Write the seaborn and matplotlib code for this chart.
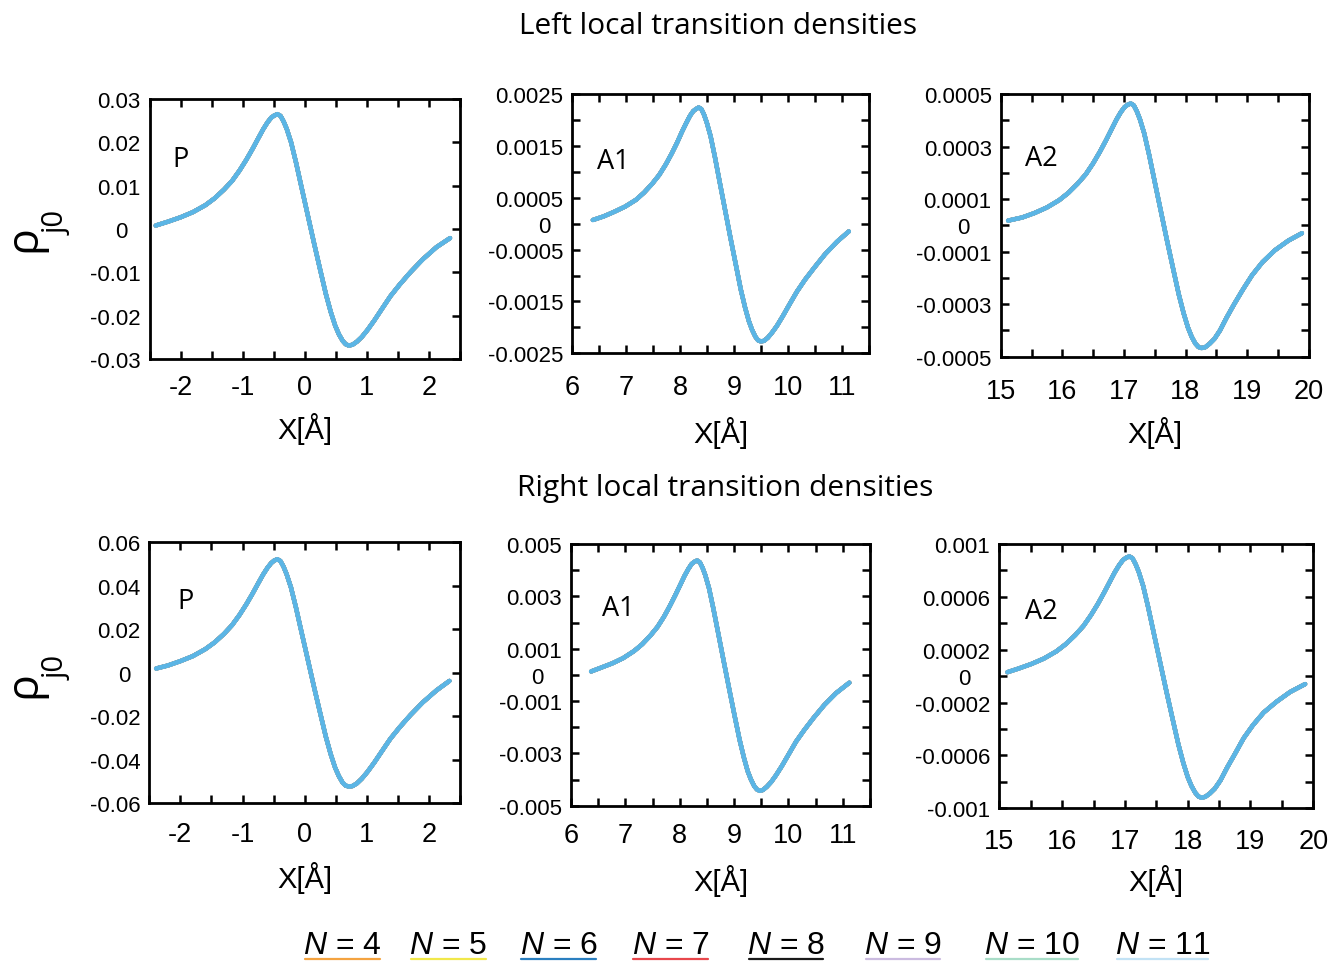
import matplotlib
matplotlib.use("Agg")
import matplotlib.pyplot as plt
import matplotlib.transforms as mtransforms
from matplotlib.lines import Line2D
import numpy as np
import pandas as pd
import seaborn as sns

# ---------------- data ----------------
n_sizes = [4, 5, 6, 7, 8, 9, 10, 11]
line_colors = ["#F4A340", "#F1E84A", "#2A7FC0", "#E8474C", "#1A1A1A", "#CBBBE0", "#A9DDC8", "#5BB5E5"]
legend_colors = ["#F4A340", "#F1E84A", "#2A7FC0", "#E8474C", "#1A1A1A", "#CBBBE0", "#A9DDC8", "#C2E2F5"]

# left local transition densities
left_p_x = [-2.40, -2.20, -2.00, -1.80, -1.60, -1.45, -1.30, -1.17, -1.05, -0.94, -0.84, -0.75, -0.67, -0.60,
            -0.54, -0.49, -0.44, -0.39, -0.34, -0.29, -0.22, -0.14, -0.05, 0.05, 0.15, 0.25, 0.34, 0.42, 0.49,
            0.55, 0.61, 0.66, 0.71, 0.77, 0.84, 0.92, 1.01, 1.12, 1.24, 1.38, 1.53, 1.70, 1.90, 2.12, 2.34]
left_p_y = [0.0008, 0.0017, 0.0027, 0.0039, 0.0055, 0.0071, 0.0091, 0.0111, 0.0135, 0.0160, 0.0185, 0.0209,
            0.0230, 0.0246, 0.0257, 0.0262, 0.0265, 0.0261, 0.0248, 0.0231, 0.0200, 0.0153, 0.0095, 0.0031,
            -0.0033, -0.0095, -0.0150, -0.0192, -0.0223, -0.0243, -0.0258, -0.0266, -0.0269, -0.0267, -0.0260,
            -0.0249, -0.0233, -0.0211, -0.0185, -0.0155, -0.0128, -0.0100, -0.0070, -0.0042, -0.0021]

left_a1_x = [6.38, 6.58, 6.78, 6.98, 7.18, 7.33, 7.48, 7.61, 7.73, 7.84, 7.94, 8.03, 8.11, 8.18, 8.24, 8.29,
             8.34, 8.39, 8.44, 8.49, 8.56, 8.64, 8.73, 8.83, 8.93, 9.03, 9.12, 9.20, 9.27, 9.33, 9.39, 9.44,
             9.49, 9.55, 9.62, 9.70, 9.79, 9.90, 10.02, 10.16, 10.31, 10.48, 10.68, 10.90, 11.12]
left_a1_y = [0.00007, 0.00014, 0.00023, 0.00033, 0.00046, 0.00060, 0.00077, 0.00094, 0.00114, 0.00135,
             0.00156, 0.00177, 0.00194, 0.00208, 0.00217, 0.00221, 0.00224, 0.00221, 0.00210, 0.00195,
             0.00169, 0.00129, 0.00080, 0.00026, -0.00028, -0.00080, -0.00127, -0.00162, -0.00188, -0.00205,
             -0.00218, -0.00225, -0.00227, -0.00226, -0.00220, -0.00210, -0.00197, -0.00178, -0.00156,
             -0.00131, -0.00108, -0.00085, -0.00059, -0.00035, -0.00015]

left_a2_x = [15.12, 15.35, 15.55, 15.75, 15.95, 16.10, 16.25, 16.38, 16.50, 16.61, 16.71, 16.80, 16.88, 16.95,
             17.01, 17.06, 17.11, 17.16, 17.21, 17.26, 17.33, 17.41, 17.50, 17.60, 17.70, 17.80, 17.89, 17.97,
             18.04, 18.10, 18.16, 18.21, 18.26, 18.32, 18.39, 18.47, 18.56, 18.67, 18.79, 18.93, 19.08, 19.25,
             19.45, 19.67, 19.89]
left_a2_y = [0.000018, 0.000030, 0.000047, 0.000068, 0.000096, 0.000124, 0.000159, 0.000194, 0.000236,
             0.000280, 0.000324, 0.000366, 0.000403, 0.000431, 0.000450, 0.000459, 0.000464, 0.000457,
             0.000434, 0.000404, 0.000350, 0.000268, 0.000166, 0.000054, -0.000058, -0.000166, -0.000262,
             -0.000335, -0.000389, -0.000424, -0.000450, -0.000463, -0.000467, -0.000464, -0.000451,
             -0.000432, -0.000400, -0.000350, -0.000300, -0.000245, -0.000190, -0.000140, -0.000095,
             -0.000058, -0.000030]

# right local transition densities
right_p_x = [-2.39, -2.20, -2.00, -1.80, -1.60, -1.45, -1.30, -1.17, -1.05, -0.94, -0.84, -0.75, -0.67, -0.60,
             -0.54, -0.49, -0.44, -0.39, -0.34, -0.29, -0.22, -0.14, -0.05, 0.05, 0.15, 0.25, 0.34, 0.42, 0.49,
             0.55, 0.61, 0.66, 0.71, 0.77, 0.84, 0.92, 1.01, 1.12, 1.24, 1.38, 1.53, 1.70, 1.90, 2.12, 2.33]
right_p_y = [0.0019, 0.0033, 0.0053, 0.0076, 0.0108, 0.0139, 0.0178, 0.0218, 0.0265, 0.0314, 0.0363, 0.0410,
             0.0451, 0.0482, 0.0504, 0.0516, 0.0522, 0.0514, 0.0488, 0.0453, 0.0392, 0.0300, 0.0186, 0.0061,
             -0.0065, -0.0186, -0.0294, -0.0376, -0.0437, -0.0476, -0.0506, -0.0520, -0.0524, -0.0522,
             -0.0510, -0.0488, -0.0457, -0.0414, -0.0363, -0.0304, -0.0251, -0.0196, -0.0137, -0.0082,
             -0.0038]

right_a1_x = [6.37, 6.56, 6.76, 6.96, 7.16, 7.31, 7.46, 7.59, 7.71, 7.82, 7.92, 8.01, 8.09, 8.16, 8.22, 8.27,
              8.32, 8.37, 8.42, 8.47, 8.54, 8.62, 8.71, 8.81, 8.91, 9.01, 9.10, 9.18, 9.25, 9.31, 9.37, 9.42,
              9.47, 9.53, 9.60, 9.68, 9.77, 9.88, 10.00, 10.14, 10.29, 10.46, 10.66, 10.88, 11.12]
right_a1_y = [0.00013, 0.00028, 0.00044, 0.00064, 0.00091, 0.00117, 0.00150, 0.00183, 0.00222, 0.00264,
              0.00305, 0.00344, 0.00379, 0.00405, 0.00424, 0.00432, 0.00437, 0.00430, 0.00409, 0.00381,
              0.00330, 0.00252, 0.00157, 0.00051, -0.00054, -0.00157, -0.00247, -0.00316, -0.00368, -0.00400,
              -0.00425, -0.00438, -0.00443, -0.00440, -0.00428, -0.00410, -0.00384, -0.00348, -0.00305,
              -0.00255, -0.00211, -0.00165, -0.00115, -0.00069, -0.00030]

right_a2_x = [15.13, 15.31, 15.51, 15.71, 15.91, 16.06, 16.21, 16.34, 16.46, 16.57, 16.67, 16.76, 16.84, 16.91,
              16.97, 17.02, 17.07, 17.12, 17.17, 17.22, 17.29, 17.37, 17.46, 17.56, 17.66, 17.76, 17.85, 17.93,
              18.00, 18.06, 18.12, 18.17, 18.22, 18.28, 18.35, 18.43, 18.52, 18.63, 18.75, 18.89, 19.04, 19.21,
              19.41, 19.63, 19.87]
right_a2_y = [0.000030, 0.000058, 0.000092, 0.000133, 0.000188, 0.000243, 0.000311, 0.000380, 0.000462,
              0.000547, 0.000633, 0.000715, 0.000787, 0.000841, 0.000879, 0.000896, 0.000906, 0.000893,
              0.000848, 0.000790, 0.000684, 0.000523, 0.000325, 0.000106, -0.000113, -0.000325, -0.000513,
              -0.000657, -0.000763, -0.000831, -0.000882, -0.000910, -0.000920, -0.000913, -0.000889,
              -0.000852, -0.000790, -0.000690, -0.000590, -0.000470, -0.000370, -0.000275, -0.000195,
              -0.000120, -0.000060]

# tick labels
p_xticklabels = ["", "-2", "", "-1", "", "0", "", "1", "", "2", ""]
a1_xticklabels = ["6", "", "7", "", "8", "", "9", "", "10", "", "11", ""]
a2_xticklabels = ["15", "", "16", "", "17", "", "18", "", "19", "", "20"]

left_p_yticklabels = ["-0.03", "-0.02", "-0.01", "0", "0.01", "0.02", "0.03"]
left_a1_yticklabels = ["-0.0025", "", "-0.0015", "", "-0.0005", "0", "0.0005", "", "0.0015", "", "0.0025"]
left_a2_yticklabels = ["-0.0005", "", "-0.0003", "", "-0.0001", "0", "0.0001", "", "0.0003", "", "0.0005"]
right_p_yticklabels = ["-0.06", "-0.04", "-0.02", "0", "0.02", "0.04", "0.06"]
right_a1_yticklabels = ["-0.005", "", "-0.003", "", "-0.001", "0", "0.001", "", "0.003", "", "0.005"]
right_a2_yticklabels = ["-0.001", "", "-0.0006", "", "-0.0002", "0", "0.0002", "", "0.0006", "", "0.001"]

row_titles = ["Left local transition densities", "Right local transition densities"]

# ---------------- style ----------------
sns.set_theme(style="white")
plt.rcParams["font.family"] = ["Liberation Sans", "DejaVu Sans"]
plt.rcParams["axes.unicode_minus"] = False
plt.rcParams["mathtext.fontset"] = "custom"
plt.rcParams["mathtext.it"] = "Liberation Sans:italic"
plt.rcParams["mathtext.rm"] = "Liberation Sans"

W, H = 1333, 962
fig = plt.figure(figsize=(W / 100, H / 100), dpi=100)
fig.patch.set_facecolor("white")

HUMANIST = ["Open Sans", "DejaVu Sans"]


def px_rect(left, top, right, bottom):
    return [left / W, 1 - bottom / H, (right - left) / W, (bottom - top) / H]


panels = [
    dict(x=left_p_x, y=left_p_y, rect=px_rect(149.5, 100, 460, 360), xlim=(-2.5, 2.5), ylim=(-0.03, 0.03),
         ystep=0.01, xtl=p_xticklabels, ytl=left_p_yticklabels, name="P", npos=(0.10, 0.77),
         leftticks=False, xpad=11, zero_shift=9, xlab_y=-0.265),
    dict(x=left_a1_x, y=left_a1_y, rect=px_rect(572.3, 95, 869.3, 354.3), xlim=(6.0, 11.5), ylim=(-0.0025, 0.0025),
         ystep=0.0005, xtl=a1_xticklabels, ytl=left_a1_yticklabels, name="A1", npos=(0.137, 0.743),
         leftticks=True, xpad=15, zero_shift=9, xlab_y=-0.305),
    dict(x=left_a2_x, y=left_a2_y, rect=px_rect(1000.7, 95, 1308.7, 357.7), xlim=(15, 20), ylim=(-0.0005, 0.0005),
         ystep=0.0001, xtl=a2_xticklabels, ytl=left_a2_yticklabels, name="A2", npos=(0.132, 0.756),
         leftticks=True, xpad=15.5, zero_shift=16, xlab_y=-0.285),
    dict(x=right_p_x, y=right_p_y, rect=px_rect(149.3, 543.3, 460, 804), xlim=(-2.5, 2.5), ylim=(-0.06, 0.06),
         ystep=0.02, xtl=p_xticklabels, ytl=right_p_yticklabels, name="P", npos=(0.115, 0.773),
         leftticks=False, xpad=13, zero_shift=7, xlab_y=-0.285),
    dict(x=right_a1_x, y=right_a1_y, rect=px_rect(571, 545, 870, 806.7), xlim=(6.0, 11.5), ylim=(-0.005, 0.005),
         ystep=0.001, xtl=a1_xticklabels, ytl=right_a1_yticklabels, name="A1", npos=(0.157, 0.755),
         leftticks=True, xpad=12, zero_shift=13, xlab_y=-0.285),
    dict(x=right_a2_x, y=right_a2_y, rect=px_rect(999.3, 545, 1313.3, 809.3), xlim=(15, 20), ylim=(-0.001, 0.001),
         ystep=0.0002, xtl=a2_xticklabels, ytl=right_a2_yticklabels, name="A2", npos=(0.134, 0.745),
         leftticks=True, xpad=14, zero_shift=14, xlab_y=-0.27),
]

for spec in panels:
    ax = fig.add_axes(spec["rect"])
    df = pd.DataFrame({"x": spec["x"], "y": spec["y"]})
    # one curve per basis size; the largest basis is drawn last, on top
    for n, col in zip(n_sizes, line_colors):
        sns.lineplot(data=df, x="x", y="y", ax=ax, color=col, lw=3.3 if n == 11 else 3.0,
                     sort=False, estimator=None, solid_capstyle="round", solid_joinstyle="round",
                     zorder=2 + n / 100)

    x0, x1 = spec["xlim"]
    y0, y1 = spec["ylim"]
    ax.set_xlim(x0, x1)
    ax.set_ylim(y0, y1)
    xt = np.arange(x0, x1 + 1e-9, 0.5)
    ax.set_xticks(xt)
    ax.set_xticklabels(spec["xtl"])
    nyt = int(round((y1 - y0) / spec["ystep"])) + 1
    yt = np.linspace(y0, y1, nyt)
    ax.set_yticks(yt)
    ax.set_yticklabels(spec["ytl"])

    for side in ["top", "right", "bottom", "left"]:
        ax.spines[side].set_visible(True)
        ax.spines[side].set_color("black")
        ax.spines[side].set_linewidth(2.0)
    ax.tick_params(axis="both", direction="in", length=6, width=1.8, color="black",
                   top=True, right=True, bottom=True, left=spec["leftticks"])
    ax.tick_params(axis="x", labelsize=19.5, pad=spec["xpad"], labelcolor="black")
    ax.tick_params(axis="y", labelsize=16, pad=6.5, labelcolor="black")

    # the "0" labels on the y axes sit a little further left than the rest
    for lbl, val in zip(ax.get_yticklabels(), yt):
        if abs(val) < 1e-12:
            lbl.set_transform(lbl.get_transform() +
                              mtransforms.ScaledTranslation(-spec["zero_shift"] / 72, 0, fig.dpi_scale_trans))

    ax.set_ylabel("")
    ax.set_xlabel("X[Å]", fontsize=21, color="black")
    ax.xaxis.label.set_verticalalignment("center")
    ax.xaxis.set_label_coords(0.5, spec["xlab_y"])

    ax.text(spec["npos"][0], spec["npos"][1], spec["name"], transform=ax.transAxes,
            fontsize=19.5, family=HUMANIST, ha="center", va="center", color="black")

# row titles
fig.text(718 / W, 1 - 27 / H, row_titles[0], fontsize=21.5, family=HUMANIST,
         ha="center", va="center", color="black")
fig.text(725 / W, 1 - 489 / H, row_titles[1], fontsize=21.5, family=HUMANIST,
         ha="center", va="center", color="black")

# y-axis symbol rho_j0 for each row
for rho_y, sub_y in [(239, 223), (685, 668)]:
    fig.text(24 / W, 1 - rho_y / H, "ρ", fontsize=32, rotation=90, family=HUMANIST,
             ha="center", va="center", color="black")
    fig.text(57 / W, 1 - sub_y / H, "j0", fontsize=21, rotation=90, family=HUMANIST,
             ha="center", va="center", color="black")

# legend row: label above a short coloured line
legend_spans = [(305, 380), (411, 486), (521, 596), (633, 708), (749, 823), (866, 940), (986, 1078), (1117, 1208)]
for n, col, (xa, xb) in zip(n_sizes, legend_colors, legend_spans):
    fig.text((xa + xb) / 2 / W, 1 - 954 / H, rf"$N$ = {n}", fontsize=23,
             ha="center", va="baseline", color="black")
    fig.add_artist(Line2D([xa / W, xb / W], [1 - 960 / H, 1 - 960 / H], color=col, lw=1.6,
                          transform=fig.transFigure))

fig.savefig("out.png", dpi=100, facecolor="white")
